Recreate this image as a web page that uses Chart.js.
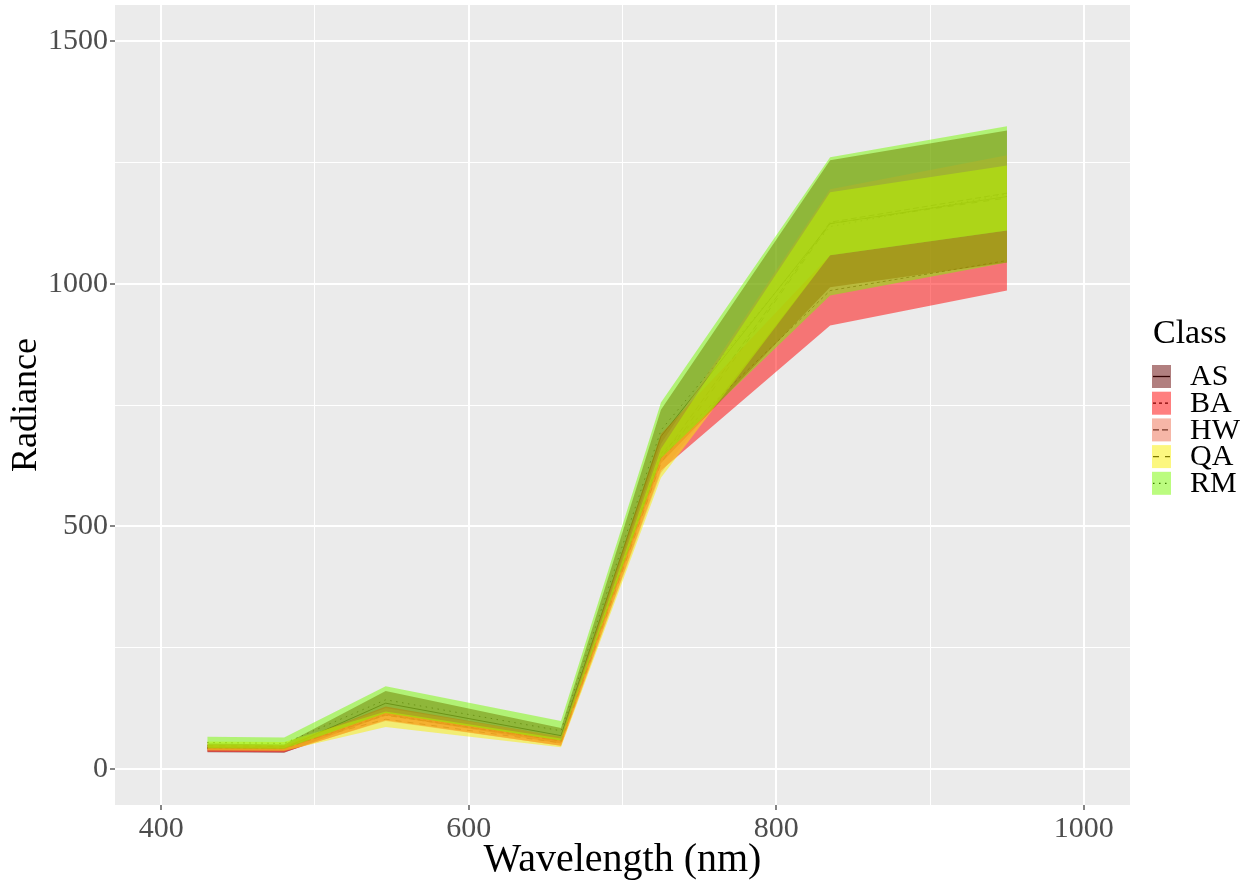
<!DOCTYPE html>
<html>
<head>
<meta charset="utf-8">
<script src="https://cdn.jsdelivr.net/npm/chart.js@4.4.1/dist/chart.umd.min.js"></script>
<style>
  html, body { margin: 0; padding: 0; background: #ffffff; }
  #wrap { width: 1249px; height: 880px; position: relative; }
</style>
</head>
<body>
<div id="wrap"><canvas id="c" width="1249" height="880"></canvas></div>
<script>
// Band centre wavelengths (nm)
const wavelengths = [430, 480, 546, 660, 725, 835, 950];

// Class names, in legend order
const classes = ['AS', 'BA', 'HW', 'QA', 'RM'];

// Radiance ribbons (lower / upper) and mean line per class
const asLower = [34, 33, 110, 52, 630, 993, 1044];
const asUpper = [52, 50, 160, 84, 740, 1255, 1316];
const asMean  = [43, 42, 135, 68, 685, 1124, 1180];

const baLower = [35, 34, 100, 47, 615, 914, 986];
const baUpper = [48, 47, 128, 66, 690, 1059, 1110];
const baMean  = [42, 41, 112, 57, 650, 986, 1048];

const hwLower = [36, 35, 98, 47, 610, 1059, 1110];
const hwUpper = [50, 49, 125, 67, 670, 1195, 1265];
const hwMean  = [43, 42, 110, 57, 640, 1127, 1187];

const qaLower = [38, 37, 86, 44, 600, 1059, 1110];
const qaUpper = [56, 55, 118, 62, 660, 1189, 1244];
const qaMean  = [47, 46, 102, 53, 630, 1124, 1177];

const rmLower = [42, 41, 115, 58, 640, 976, 1044];
const rmUpper = [66, 64, 170, 98, 755, 1261, 1325];
const rmMean  = [54, 52, 142, 78, 698, 1118, 1185];

// Axis tick positions (major ticks are labelled)
const xTicks = [400, 500, 600, 700, 800, 900, 1000];
const xMajor = [400, 600, 800, 1000];
const yTicks = [0, 250, 500, 750, 1000, 1250, 1500];
const yMajor = [0, 500, 1000, 1500];

// Fill colours (drawn at half opacity) and mean-line dash patterns
const fillColors = ['rgba(100,0,0,0.5)', 'rgba(255,0,0,0.5)', 'rgba(238,110,80,0.5)', 'rgba(250,240,0,0.5)', 'rgba(120,250,0,0.5)'];
const dashes = [[], [3, 3], [6, 3], [6, 6], [1.5, 4.5]];

const lowers = [asLower, baLower, hwLower, qaLower, rmLower];
const uppers = [asUpper, baUpper, hwUpper, qaUpper, rmUpper];
const means  = [asMean, baMean, hwMean, qaMean, rmMean];

const xy = arr => arr.map((v, i) => ({ x: wavelengths[i], y: v }));

const datasets = [];
// mean lines sit underneath the ribbons
classes.forEach((c, i) => {
  datasets.push({
    label: c + ' mean', data: xy(means[i]), borderColor: 'rgba(0,0,0,0.7)', borderWidth: 0.9,
    borderDash: dashes[i], pointRadius: 0, fill: false, order: 100
  });
});
// ribbons: a hidden lower edge plus an upper edge filled down to it
classes.forEach((c, i) => {
  const lowIdx = datasets.length;
  const ord = 50 - i * 10;
  datasets.push({
    label: c + ' lower', data: xy(lowers[i]), borderWidth: 0, pointRadius: 0,
    fill: false, order: ord
  });
  datasets.push({
    label: c, data: xy(uppers[i]), borderWidth: 0, pointRadius: 0,
    backgroundColor: fillColors[i], fill: { target: lowIdx }, order: ord
  });
});

const SERIF = '"Liberation Serif", "Times New Roman", serif';

const panelBg = {
  id: 'panelBg',
  beforeDraw(chart) {
    const { ctx, chartArea: a } = chart;
    ctx.save();
    ctx.fillStyle = '#ebebeb';
    ctx.fillRect(a.left, a.top, a.right - a.left, a.bottom - a.top);
    ctx.restore();
  }
};

const classLegend = {
  id: 'classLegend',
  afterDraw(chart) {
    const { ctx } = chart;
    ctx.save();
    ctx.fillStyle = '#000000';
    ctx.font = '34px ' + SERIF;
    ctx.textBaseline = 'alphabetic';
    ctx.textAlign = 'left';
    ctx.fillText('Class', 1153, 343);
    const kx = 1152, kw = 19, kh = 23, pitch = 26.7, top0 = 365;
    classes.forEach((c, i) => {
      const ky = top0 + i * pitch;
      ctx.fillStyle = '#ffffff';
      ctx.fillRect(kx, ky, kw, kh);
      // key line first, then the translucent fill over it
      ctx.strokeStyle = '#000000';
      ctx.lineWidth = 1.3;
      ctx.setLineDash(dashes[i]);
      ctx.beginPath();
      ctx.moveTo(kx + 1, ky + kh / 2);
      ctx.lineTo(kx + kw - 1, ky + kh / 2);
      ctx.stroke();
      ctx.setLineDash([]);
      ctx.fillStyle = fillColors[i];
      ctx.fillRect(kx, ky, kw, kh);
      ctx.fillStyle = '#000000';
      ctx.font = '30px ' + SERIF;
      ctx.textBaseline = 'middle';
      ctx.fillText(c, 1190, ky + kh / 2 + 1);
    });
    ctx.restore();
  }
};

new Chart(document.getElementById('c'), {
  type: 'line',
  data: { datasets },
  options: {
    responsive: false,
    animation: false,
    devicePixelRatio: 1,
    layout: { padding: { top: 5, right: 119, left: 0, bottom: 0 } },
    plugins: { legend: { display: false }, tooltip: { enabled: false } },
    elements: { line: { tension: 0 } },
    scales: {
      x: {
        type: 'linear', min: 370, max: 1030,
        afterBuildTicks: s => { s.ticks = xTicks.map(v => ({ value: v })); },
        afterFit: s => { s.height = 75; s.paddingLeft = 0; s.paddingRight = 0; },
        border: { display: false },
        grid: {
          color: '#ffffff',
          lineWidth: c => (xMajor.includes(c.tick.value) ? 2 : 1),
          drawTicks: true, tickLength: 5, tickWidth: 1.2,
          tickColor: c => (xMajor.includes(c.tick.value) ? '#333333' : 'rgba(0,0,0,0)')
        },
        ticks: {
          autoSkip: false, maxRotation: 0, padding: 1,
          color: '#4d4d4d', font: { family: SERIF, size: 30 },
          callback: v => (xMajor.includes(v) ? String(v) : '')
        },
        title: {
          display: true, text: 'Wavelength (nm)', color: '#000000',
          font: { family: SERIF, size: 40, lineHeight: 1.0 }, padding: { top: 0, bottom: 0 }
        }
      },
      y: {
        type: 'linear', min: -75, max: 1575,
        afterBuildTicks: s => { s.ticks = yTicks.map(v => ({ value: v })); },
        afterFit: s => { s.width = 115; s.paddingTop = 0; s.paddingBottom = 0; },
        border: { display: false },
        grid: {
          color: '#ffffff',
          lineWidth: c => (yMajor.includes(c.tick.value) ? 2 : 1),
          drawTicks: true, tickLength: 5, tickWidth: 1.2,
          tickColor: c => (yMajor.includes(c.tick.value) ? '#333333' : 'rgba(0,0,0,0)')
        },
        ticks: {
          autoSkip: false, padding: 2,
          color: '#4d4d4d', font: { family: SERIF, size: 30 },
          callback: v => (yMajor.includes(v) ? String(v) : '')
        },
        title: {
          display: true, text: 'Radiance', color: '#000000',
          font: { family: SERIF, size: 36, lineHeight: 1.2 }, padding: { top: 5, bottom: 0 }
        }
      }
    }
  },
  plugins: [panelBg, classLegend]
});
</script>
</body>
</html>
